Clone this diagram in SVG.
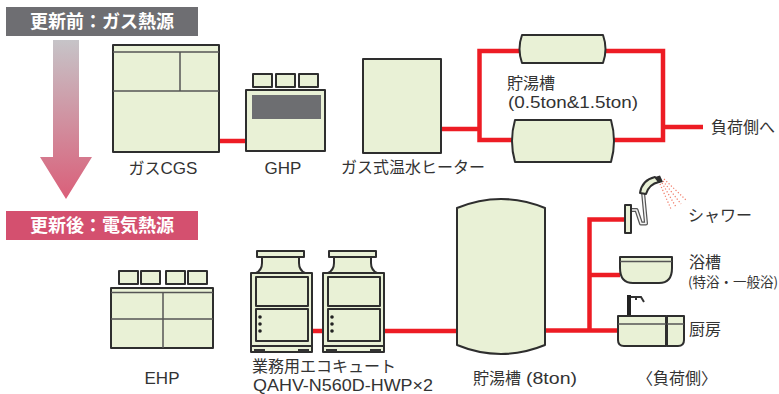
<svg xmlns="http://www.w3.org/2000/svg" width="779" height="394" viewBox="0 0 779 394">
  <defs>
    <linearGradient id="downGrad" x1="0" y1="0" x2="0" y2="1">
      <stop offset="0" stop-color="#c6c4c8"/>
      <stop offset="1" stop-color="#da5f79"/>
    </linearGradient>
    <style>
      .eq { fill: #e9f1d6; stroke: #2e2e2e; stroke-width: 2; stroke-linejoin: round; }
      .div { fill: none; stroke: #555; stroke-width: 1.5; }
      .pipe { fill: none; stroke: #ed1c24; stroke-width: 4.5; }
      .lbl { font-family: "Noto Sans CJK JP", sans-serif; font-size: 16px; fill: #333; }
      .lat { font-family: "Liberation Sans", "Noto Sans CJK JP", sans-serif; font-size: 17px; fill: #333; }
      .sub { font-size: 13.5px; }
      .ban { font-family: "Noto Sans CJK JP", sans-serif; font-size: 18px; font-weight: bold; fill: #fff; }
      .spray { fill: none; stroke: #f07a66; stroke-width: 1.2; stroke-dasharray: 1.2 2; }
    </style>
  </defs>

  <!-- section banners and transition arrow -->
  <g id="banner-before">
    <rect x="6" y="7" width="192" height="29" fill="#6e6e72"/>
    <text class="ban" x="102" y="28" text-anchor="middle">更新前：ガス熱源</text>
  </g>
  <g id="transition-arrow">
    <path d="M53,40 H79 V157 H92 L66,199 L40,157 H53 Z" fill="url(#downGrad)"/>
  </g>
  <g id="banner-after">
    <rect x="6" y="211" width="192" height="29" fill="#d4506f"/>
    <text class="ban" x="102" y="232" text-anchor="middle">更新後：電気熱源</text>
  </g>

  <!-- pipework -->
  <g id="connectors">
    <path class="pipe" d="M219,141 H246"/>
    <path class="pipe" d="M441,129 H479.5"/>
    <path class="pipe" d="M479.5,51 V140 H663 V51 Z"/>
    <path class="pipe" d="M663,127 H703"/>
    <path class="pipe" d="M312,331 H323"/>
    <path class="pipe" d="M384,331 H457"/>
    <path class="pipe" d="M545,330.5 H618"/>
    <path class="pipe" d="M589.5,330.5 V219.5 H625"/>
    <path class="pipe" d="M589.5,275 H620"/>
  </g>

  <!-- upper row: gas heat sources -->
  <g id="gas-cgs">
    <rect class="eq" x="113" y="45" width="106" height="107"/>
    <path class="div" d="M113,52 H219 M113,91 H219"/>
    <path class="div" d="M180,52 V91"/>
    <text class="lbl" x="163" y="174" text-anchor="middle">ガス<tspan class="lat">CGS</tspan></text>
  </g>

  <g id="ghp">
    <rect class="eq" x="253" y="74" width="19" height="13"/>
    <rect class="eq" x="276" y="74" width="19" height="13"/>
    <rect class="eq" x="299" y="74" width="19" height="13"/>
    <rect class="eq" x="246" y="90" width="79" height="61"/>
    <rect x="252" y="95" width="69" height="24" fill="#6d6e71"/>
    <text class="lat" x="283" y="173.5" text-anchor="middle">GHP</text>
  </g>

  <g id="gas-heater">
    <rect class="eq" x="363" y="59" width="78" height="94"/>
    <text class="lbl" x="413" y="173" text-anchor="middle">ガス式温水ヒーター</text>
  </g>

  <g id="tank-small">
    <path class="eq" d="M522,35 H603 Q608,49 603,63 H522 Q517,49 522,35 Z"/>
  </g>
  <g id="tank-large">
    <path class="eq" d="M515,120 H611 Q617,141 611,162 H515 Q509,141 515,120 Z"/>
  </g>
  <g id="tank-label">
    <text class="lbl" x="507" y="89">貯湯槽</text>
    <text class="lat" x="508" y="108" textLength="130" lengthAdjust="spacingAndGlyphs">(0.5ton&amp;1.5ton)</text>
  </g>
  <g id="load-out">
    <text class="lbl" x="711" y="133">負荷側へ</text>
  </g>

  <!-- lower row: electric heat sources -->
  <g id="ehp">
    <rect class="eq" x="119" y="271" width="19" height="13"/>
    <rect class="eq" x="141" y="271" width="19" height="13"/>
    <rect class="eq" x="166" y="271" width="19" height="13"/>
    <rect class="eq" x="188" y="271" width="19" height="13"/>
    <rect class="eq" x="111" y="288" width="102" height="60"/>
    <path class="div" d="M111,292.5 H213 M111,319 H213 M163,292.5 V348"/>
    <text class="lat" x="162" y="384" text-anchor="middle">EHP</text>
  </g>

  <g id="ecocute-1">
    <rect class="eq" x="257" y="251" width="47" height="6"/>
    <path class="eq" d="M262,257 V263 Q262,270 256,273 H305 Q299,270 299,263 V257 Z"/>
    <rect class="eq" x="251" y="273" width="61" height="73"/>
    <rect class="eq" x="256" y="277" width="52" height="29" stroke-width="1.5"/>
    <rect class="eq" x="256" y="309" width="52" height="32" stroke-width="1.5"/>
    <circle cx="260" cy="317" r="1.8" fill="#222"/>
    <circle cx="260" cy="324" r="1.8" fill="#222"/>
    <circle cx="260" cy="331" r="1.8" fill="#222"/>
    <rect class="eq" x="251" y="346" width="61" height="6" stroke-width="1.5"/>
    <rect x="254" y="349" width="11" height="2.5" fill="#333"/>
    <rect x="298" y="349" width="11" height="2.5" fill="#333"/>
  </g>
  <g id="ecocute-2">
    <rect class="eq" x="329" y="251" width="47" height="6"/>
    <path class="eq" d="M334,257 V263 Q334,270 328,273 H377 Q371,270 371,263 V257 Z"/>
    <rect class="eq" x="323" y="273" width="61" height="73"/>
    <rect class="eq" x="328" y="277" width="52" height="29" stroke-width="1.5"/>
    <rect class="eq" x="328" y="309" width="52" height="32" stroke-width="1.5"/>
    <circle cx="332" cy="317" r="1.8" fill="#222"/>
    <circle cx="332" cy="324" r="1.8" fill="#222"/>
    <circle cx="332" cy="331" r="1.8" fill="#222"/>
    <rect class="eq" x="323" y="346" width="61" height="6" stroke-width="1.5"/>
    <rect x="326" y="349" width="11" height="2.5" fill="#333"/>
    <rect x="370" y="349" width="11" height="2.5" fill="#333"/>
  </g>
  <g id="ecocute-label">
    <text class="lbl" x="252" y="372">業務用エコキュート</text>
    <text class="lat" x="253" y="391" textLength="180" lengthAdjust="spacingAndGlyphs">QAHV-N560D-HWP×2</text>
  </g>

  <g id="storage-tank">
    <path class="eq" d="M457,208 Q501,190 545,208 V345 Q501,363 457,345 Z"/>
    <text class="lbl" x="473" y="384">貯湯槽<tspan class="lat" x="526" textLength="51" lengthAdjust="spacingAndGlyphs">(8ton)</tspan></text>
  </g>

  <!-- load side fixtures -->
  <g id="shower">
    <path d="M631,210 H636.5 L641,223.5 H646 L643,192" fill="none" stroke="#555" stroke-width="4" stroke-linejoin="round"/>
    <path d="M631,210 H636.5 L641,223.5 H646 L643,192" fill="none" stroke="#f4f4f4" stroke-width="1.6" stroke-linejoin="round"/>
    <path class="eq" d="M640,193 Q642,180 655,177 L659,182 Q649,184 646,194 Z" stroke-width="1.5"/>
    <path d="M655,177 L660,175.5 L663,182 L659,183 Z" fill="#2e2e2e"/>
    <rect class="eq" x="625" y="205" width="6" height="28" stroke-width="1.5"/>
    <path class="spray" d="M660,184 L671,209 M662,183 L676,207 M663,181 L681,204 M664,179 L686,200"/>
    <text class="lbl" x="688" y="221">シャワー</text>
  </g>

  <g id="bathtub">
    <path class="eq" d="M620,257 H672 V268 Q672,283 659,283 H633 Q620,283 620,268 Z" stroke-width="1.8"/>
    <path class="div" d="M620,261.5 H672" stroke="#333"/>
    <text class="lbl" x="689" y="268">浴槽</text>
    <text class="lbl sub" x="688" y="287">(特浴・一般浴)</text>
  </g>

  <g id="kitchen">
    <rect x="627" y="295" width="4" height="22" fill="#222"/>
    <path d="M631,297 H641 L644,302 M636,297 V300" fill="none" stroke="#333" stroke-width="2"/>
    <path class="eq" d="M618,316 H666 V346 H624 Q618,346 618,340 Z" stroke-width="1.8"/>
    <path class="eq" d="M667,316 H684 V340 Q684,346 678,346 H667 Z" stroke-width="1.8"/>
    <path class="div" d="M618,324 H666 M667,324 H684" stroke="#333"/>
    <text class="lbl" x="689" y="335">厨房</text>
  </g>

  <g id="load-side-label">
    <text class="lbl" x="677" y="384" text-anchor="middle">〈負荷側〉</text>
  </g>
</svg>
